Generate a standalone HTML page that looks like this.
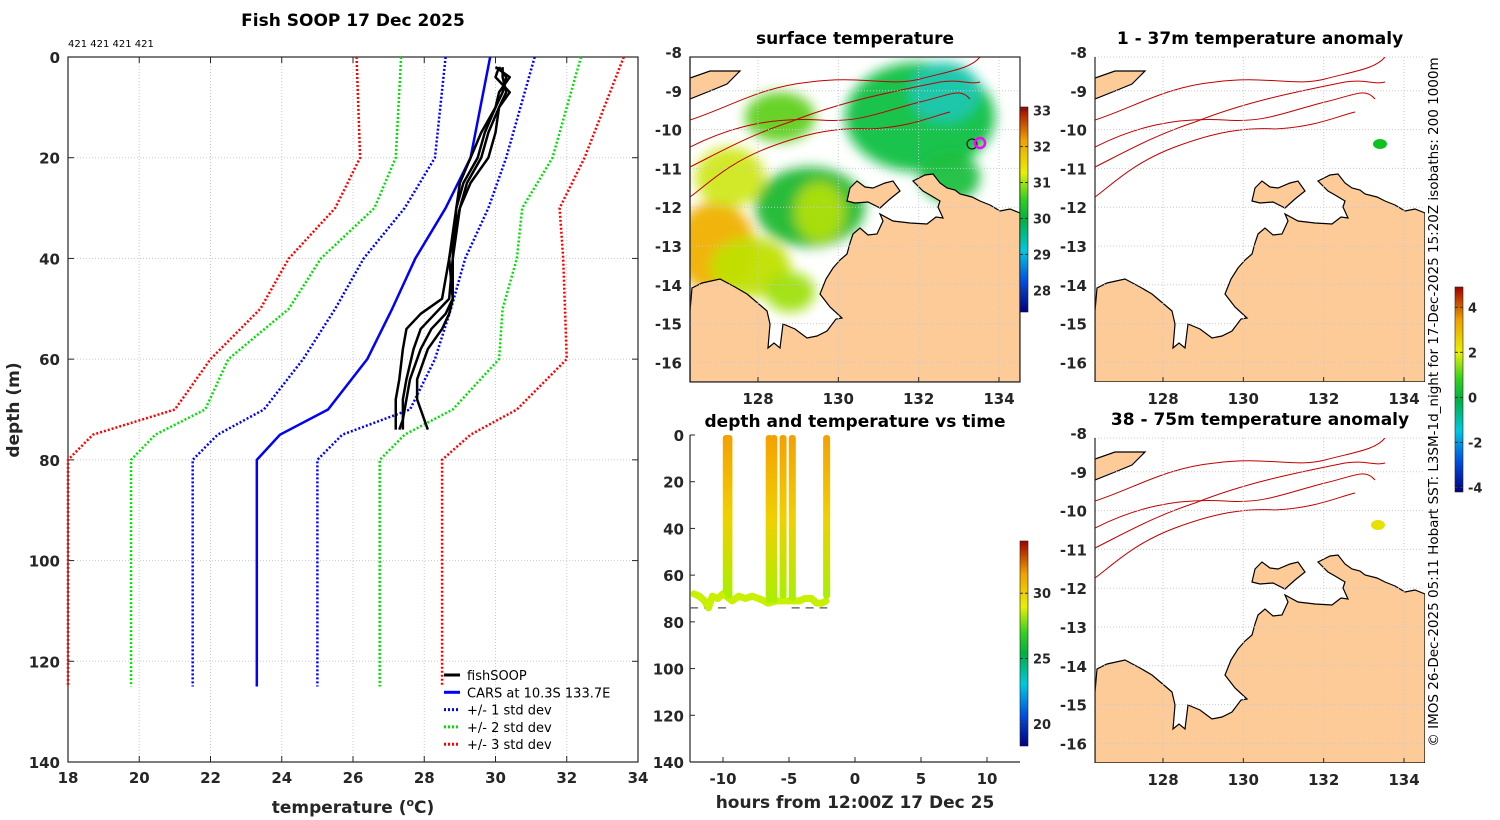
<!DOCTYPE html>
<html><head><meta charset="utf-8"><style>
html,body{margin:0;padding:0;background:#fff;}
svg{display:block;font-family:"DejaVu Sans","Liberation Sans",sans-serif;}
.tk{font-size:15px;font-weight:bold;fill:#262626;}
.tt{font-size:17px;font-weight:bold;fill:#000;}
</style></head><body>
<svg id="s" width="1500" height="820" viewBox="0 0 1500 820" xmlns="http://www.w3.org/2000/svg">
<defs>
<linearGradient id="jet" x1="0" y1="1" x2="0" y2="0">
<stop offset="0" stop-color="#000080"/><stop offset="0.15" stop-color="#0050e0"/><stop offset="0.3" stop-color="#00c8e0"/><stop offset="0.45" stop-color="#00b040"/><stop offset="0.55" stop-color="#30d020"/><stop offset="0.68" stop-color="#e8f000"/><stop offset="0.84" stop-color="#f0a000"/><stop offset="1" stop-color="#a00000"/>
</linearGradient>
<linearGradient id="cast" x1="0" y1="0" x2="0" y2="1">
<stop offset="0" stop-color="#f5a000"/><stop offset="0.5" stop-color="#f0d000"/><stop offset="1" stop-color="#a8f000"/>
</linearGradient>
<filter id="blur"><feGaussianBlur stdDeviation="6"/></filter>
<clipPath id="c1"><rect x="690" y="57" width="330" height="325"/></clipPath>
<clipPath id="c2"><rect x="1095" y="57" width="330" height="325"/></clipPath>
<clipPath id="c3"><rect x="1095" y="438" width="330" height="325"/></clipPath>
</defs>
<text class="tt" x="353" y="26" text-anchor="middle">Fish SOOP 17 Dec 2025</text>
<text x="68" y="47" font-size="10" fill="#000">421 421 421 421</text>
<g id="main"></g>
<g id="time"></g>
<g id="maps"></g>
<text x="1438" y="402" font-size="13.5" fill="#000" text-anchor="middle" transform="rotate(-90 1438 402)">© IMOS 26-Dec-2025 05:11 Hobart SST: L3SM-1d_night for 17-Dec-2025 15:20Z isobaths: 200  1000m</text>
</svg>
<script>
const NS="http://www.w3.org/2000/svg";
function mk(p,tag,a){const e=document.createElementNS(NS,tag);for(const k in a)e.setAttribute(k,a[k]);p.appendChild(e);return e;}
// ---- profile data ----
const depths=[0,20,30,40,50,60,70,75,80,125];
const cars=[29.85,29.3,28.6,27.75,27.1,26.4,25.3,23.95,23.3,23.3];
const sd1lo=[28.6,28.3,27.45,26.3,25.5,24.6,23.5,22.2,21.5,21.5];
const sd1hi=[31.1,30.3,29.8,29.15,28.75,28.3,27.6,25.7,25.0,25.0];
const sd2lo=[27.35,27.2,26.6,25.1,24.2,22.5,21.85,20.45,19.77,19.77];
const sd2hi=[32.4,31.6,30.75,30.6,30.2,30.1,28.8,27.45,26.75,26.75];
const sd3lo=[26.1,26.2,25.5,24.2,23.4,22.0,21.0,18.7,18.0,18.0];
const sd3hi=[33.6,32.5,31.8,31.9,31.95,32.0,30.6,29.3,28.5,28.5];
const fishDepths=[2,4,7,10,15,20,25,30,40,48,51,54,58,64,68,72,74];
const fish1=[30.1,30.3,30.2,30.0,29.6,29.3,29.0,28.9,28.7,28.5,27.9,27.5,27.4,27.3,27.2,27.2,27.2];
const fish2=[30.0,30.4,30.1,30.0,29.7,29.5,29.1,28.9,28.8,28.7,28.3,27.9,27.7,27.5,27.4,27.4,27.3];
const fish3=[30.2,30.2,30.3,30.1,29.8,29.6,29.2,29.0,28.8,28.8,28.6,28.2,27.9,27.6,27.5,27.4,27.4];
const fish4=[30.1,30.0,30.4,30.1,30.0,29.8,29.3,29.0,28.7,28.8,28.7,28.5,28.1,27.8,27.8,28.0,28.1];
const tempTicks=[18,20,22,24,26,28,30,32,34];
const depthTicks=[0,20,40,60,80,100,120,140];
const X=t=>68+(t-18)*(570/16), Y=d=>57+d*(705/140);
const m=document.getElementById('main');
tempTicks.forEach(t=>{const l=mk(m,'line',{x1:X(t),x2:X(t),y1:57,y2:762,stroke:'#c8c8de','stroke-dasharray':'1,2','stroke-width':1});

const tx=mk(m,'text',{x:X(t),y:783,class:'tk','text-anchor':'middle'});tx.textContent=t;

mk(m,'line',{x1:X(t),x2:X(t),y1:762,y2:756,stroke:'#262626'});mk(m,'line',{x1:X(t),x2:X(t),y1:57,y2:63,stroke:'#262626'});});
depthTicks.forEach(d=>{const l=mk(m,'line',{x1:68,x2:638,y1:Y(d),y2:Y(d),stroke:'#c8c8de','stroke-dasharray':'1,2'});

const tx=mk(m,'text',{x:60,y:Y(d)+6,class:'tk','text-anchor':'end'});tx.textContent=d;

mk(m,'line',{x1:68,x2:74,y1:Y(d),y2:Y(d),stroke:'#262626'});mk(m,'line',{x1:632,x2:638,y1:Y(d),y2:Y(d),stroke:'#262626'});});
const fr=mk(m,'rect',{x:68,y:57,width:570,height:705,fill:'none',stroke:'#262626','stroke-width':1.2});

function prof(arr,dep,col,dash,w,name){const pts=arr.map((t,i)=>X(t)+','+Y(dep[i])).join(' ');
const p=mk(m,'polyline',{points:pts,fill:'none',stroke:col,'stroke-width':w,'stroke-dasharray':dash||'none','stroke-linejoin':'round'});
}
prof(sd3lo,depths,'#ff0000','2,2',2.5,'sd3-low-line');prof(sd3hi,depths,'#ff0000','2,2',2.5,'sd3-high-line');
prof(sd2lo,depths,'#00e000','2,2',2.5,'sd2-low-line');prof(sd2hi,depths,'#00e000','2,2',2.5,'sd2-high-line');
prof(sd1lo,depths,'#0000ff','2,2',2.5,'sd1-low-line');prof(sd1hi,depths,'#0000ff','2,2',2.5,'sd1-high-line');
prof(cars,depths,'#0000ff',null,2.5,'cars-line');
[fish1,fish2,fish3,fish4].forEach((f,i)=>prof(f,fishDepths,'#000',null,2.5,'fishsoop-profile-'+(i+1)));
const lg=mk(m,'g',{});
const legItems=[['fishSOOP','#000',null],['CARS at 10.3S 133.7E','#0000ff',null],['+/- 1 std dev','#0000ff','2,2'],['+/- 2 std dev','#00e000','2,2'],['+/- 3 std dev','#ff0000','2,2']];
legItems.forEach((it,i)=>{const y=675+i*17.3;mk(lg,'line',{x1:444,x2:460,y1:y,y2:y,stroke:it[1],'stroke-width':3,'stroke-dasharray':it[2]||'none'});
const t=mk(lg,'text',{x:467,y:y+5,'font-size':13,fill:'#000'});t.textContent=it[0];
});
let t1=mk(m,'text',{x:353,y:813,'font-size':17,'font-weight':'bold',fill:'#262626','text-anchor':'middle'});t1.innerHTML='temperature (<tspan dy="-7" font-size="11">o</tspan><tspan dy="7">C)</tspan>';

let t2=mk(m,'text',{x:19,y:410,'font-size':17,'font-weight':'bold',fill:'#262626','text-anchor':'middle',transform:'rotate(-90 19 410)'});t2.textContent='depth (m)';


// ---- depth vs time ----
const hourTicks=[-10,-5,0,5,10];
const tdTicks=[0,20,40,60,80,100,120,140];
const castTimes=[-9.75,-9.55,-6.5,-6.15,-5.45,-4.75,-2.15];
const castBottoms=[68,70,72,72,70,71,70];
const trackTimes=[-12.2,-11.8,-11.4,-11.1,-10.8,-10.4,-10.0,-9.3,-8.8,-8.3,-7.8,-7.3,-6.9,-6.6,-5.9,-5.6,-4.6,-4.2,-3.8,-3.3,-2.9,-2.5,-2.2];
const trackDepths=[68,69,71,74,69,70,68,71,69,70,69,70,71,72,71,71,71,71,70,70,72,72,71];
const HX=h=>855+h*13.2, HY=d=>435+d*(327/140);
const tg=document.getElementById('time');
mk(tg,'line',{x1:690,x2:690,y1:435,y2:762,stroke:'#262626','stroke-width':1.2});
mk(tg,'line',{x1:690,x2:1020,y1:762,y2:762,stroke:'#262626','stroke-width':1.2});
hourTicks.forEach(h=>{mk(tg,'line',{x1:HX(h),x2:HX(h),y1:762,y2:757,stroke:'#262626'});
const t=mk(tg,'text',{x:HX(h),y:784,class:'tk','text-anchor':'middle'});t.textContent=h;
});
tdTicks.forEach(d=>{mk(tg,'line',{x1:690,x2:695,y1:HY(d),y2:HY(d),stroke:'#262626'});
const t=mk(tg,'text',{x:684,y:HY(d)+6,class:'tk','text-anchor':'end'});t.textContent=d;
});
let tt=mk(tg,'text',{x:855,y:427,class:'tt','text-anchor':'middle'});tt.textContent='depth and temperature vs time';

let tx2=mk(tg,'text',{x:855,y:808,'font-size':17,'font-weight':'bold',fill:'#262626','text-anchor':'middle'});tx2.textContent='hours from 12:00Z 17 Dec 25';

mk(tg,'line',{x1:HX(-12.5),x2:HX(-9.5),y1:HY(74),y2:HY(74),stroke:'#555','stroke-dasharray':'8,6','stroke-width':1.2});
mk(tg,'line',{x1:HX(-9.5),x2:HX(-5.5),y1:HY(70),y2:HY(70),stroke:'#222','stroke-dasharray':'8,6','stroke-width':1.2});
mk(tg,'line',{x1:HX(-4.8),x2:HX(-2.1),y1:HY(74),y2:HY(74),stroke:'#555','stroke-dasharray':'8,6','stroke-width':1.2});
const tr=mk(tg,'polyline',{points:trackTimes.map((h,i)=>HX(h)+','+HY(trackDepths[i])).join(' '),fill:'none',stroke:'#c8f000','stroke-width':7,'stroke-linejoin':'round','stroke-linecap':'round'});

castTimes.forEach((h,i)=>{const r=mk(tg,'rect',{x:HX(h)-3.5,y:HY(0),width:7,height:HY(castBottoms[i])-HY(0),rx:3,fill:'url(#cast)'});
});
// colorbars
function cbar(x,y0,y1,ticks,vmin,vmax,name){const g=mk(document.getElementById('s'),'g',{});
mk(g,'rect',{x:x,y:y0,width:8,height:y1-y0,fill:'url(#jet)',stroke:'#222','stroke-width':0.6});
ticks.forEach(v=>{const y=y1-(v-vmin)/(vmax-vmin)*(y1-y0);mk(g,'line',{x1:x,x2:x+3,y1:y,y2:y,stroke:'#333'});mk(g,'line',{x1:x+5,x2:x+8,y1:y,y2:y,stroke:'#333'});
const t=mk(g,'text',{x:x+13,y:y+5,'font-size':13,'font-weight':'bold',fill:'#262626'});t.textContent=v;
});}
cbar(1020,107,312,[28,29,30,31,32,33],27.4,33.1,'sst-colorbar');
cbar(1020,541,746,[20,25,30],18.3,34.0,'time-colorbar');
cbar(1455,287,492,[-4,-2,0,2,4],-4.2,4.9,'anomaly-colorbar');

// ---- maps ----
const lonTicks=[128,130,132,134];
const latTicks=[-8,-9,-10,-11,-12,-13,-14,-15,-16];
const land="M0,254 L2,231 L12,226 L30,222 L45,230 L57,237 L70,248 L77,254 L80,267 L78,291 L84,286 L90,291 L93,267 L105,272 L117,281 L127,279 L137,274 L146,262 L152,261 L140,250 L130,237 L136,222 L143,211 L150,203 L157,197 L160,186 L163,177 L170,171 L178,178 L187,177 L193,164 L190,157 L203,164 L220,166 L237,167 L246,160 L253,161 L248,150 L250,144 L240,138 L233,134 L223,124 L235,118 L243,117 L250,126 L257,131 L265,133 L270,137 L282,140 L290,144 L300,148 L310,154 L320,152 L330,156 L330,325 L0,325 Z";
const island="M157,144 L160,131 L167,124 L175,130 L183,131 L195,126 L203,124 L210,134 L200,142 L190,151 L178,145 L165,146 Z";
const timor="M0,21 L20,14 L50,14 L44,20 L37,27 L20,34 L0,42 Z";
const iso=["M0,63 C40,50 70,30 120,25 C170,18 200,30 230,22 C260,14 280,12 290,0","M0,90 C40,70 80,60 130,63 C170,66 190,55 230,45 C260,38 270,30 280,42","M0,110 C30,95 60,78 100,65 C150,45 200,35 250,25 C270,22 280,28 290,25","M0,140 C20,125 40,105 80,90 C120,75 150,70 180,72 C220,70 240,60 260,55"];
const mp=document.getElementById('maps');
const panels=[{x:690,y:57,clip:'c1',title:'surface temperature',sst:true,name:'surface-temperature-map'},
{x:1095,y:57,clip:'c2',title:'1 - 37m temperature anomaly',dot:[285,87,'#10c020'],name:'anomaly-map-shallow'},
{x:1095,y:438,clip:'c3',title:'38 - 75m temperature anomaly',dot:[283,87,'#e8e000'],name:'anomaly-map-deep'}];
panels.forEach(P=>{const g=mk(mp,'g',{});
const t=mk(g,'text',{x:P.x+165,y:P.y-13,class:'tt','text-anchor':'middle'});t.textContent=P.title;

const c=mk(g,'g',{'clip-path':'url(#'+P.clip+')'});const L=mk(c,'g',{transform:'translate('+P.x+','+P.y+')'});
if(P.sst){const b=mk(L,'g',{filter:'url(#blur)'});
[[230,60,75,55,'#10c040'],[255,35,35,30,'#20c8b0'],[120,150,55,40,'#20b830'],[130,155,25,30,'#b0e010'],[25,190,40,45,'#f0b000'],[60,210,40,30,'#c0e000'],[40,120,35,30,'#d0e820'],[90,60,35,25,'#60d020'],[260,120,30,25,'#20c040'],[100,235,25,20,'#a0e010']].forEach(e=>{
const el=mk(b,'ellipse',{cx:e[0],cy:e[1],rx:e[2],ry:e[3],fill:e[4],opacity:0.95});});}
iso.forEach(d=>{const p=mk(L,'path',{d:d,fill:'none',stroke:'#c00000','stroke-width':1});});
[land,island,timor].forEach(d=>{const p=mk(L,'path',{d:d,fill:'#fdcb98',stroke:'#000','stroke-width':1.2});});
if(P.sst){mk(L,'circle',{cx:282,cy:87,r:5,fill:'none',stroke:'#000'});mk(L,'circle',{cx:290,cy:86,r:5,fill:'none',stroke:'#ff00ff','stroke-width':2.5});}
if(P.dot){const d=mk(L,'ellipse',{cx:P.dot[0],cy:P.dot[1],rx:7,ry:5,fill:P.dot[2]});}
lonTicks.forEach(lo=>{const x=P.x+68+(lo-128)*(241/6);mk(g,'line',{x1:x,x2:x,y1:P.y,y2:P.y+325,stroke:'#c8c8de','stroke-dasharray':'1,2'});
mk(g,'line',{x1:x,x2:x,y1:P.y+325,y2:P.y+320,stroke:'#262626'});
const tx=mk(g,'text',{x:x,y:P.y+347,class:'tk','text-anchor':'middle'});tx.textContent=lo;});
latTicks.forEach(la=>{const y=P.y-5+(-8-la)*38.8;if(y<P.y-6)return;mk(g,'line',{x1:P.x,x2:P.x+330,y1:Math.max(y,P.y),y2:Math.max(y,P.y),stroke:'#c8c8de','stroke-dasharray':'1,2'});
const tx=mk(g,'text',{x:P.x-8,y:y+6,class:'tk','text-anchor':'end'});tx.textContent=la;});
mk(g,'line',{x1:P.x,x2:P.x,y1:P.y,y2:P.y+325,stroke:'#262626','stroke-width':1.2});
if(P.sst){mk(g,'rect',{x:P.x,y:P.y,width:330,height:325,fill:'none',stroke:'#262626','stroke-width':1.2});}
});
</script>
</body></html>
